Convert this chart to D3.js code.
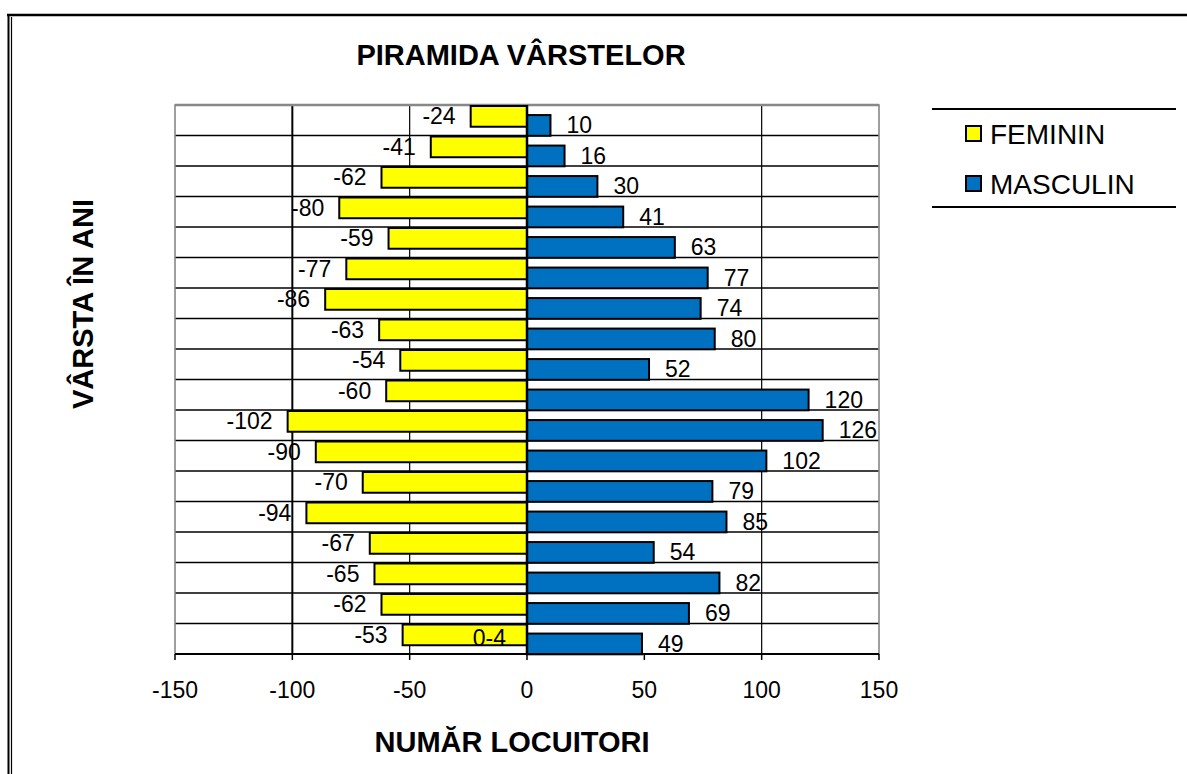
<!DOCTYPE html>
<html>
<head>
  <meta charset="utf-8">
  <title>Piramida varstelor</title>
  <script src="https://d3js.org/d3.v7.min.js"></script>
  <style>
    body { margin: 0; background: #fff; }
    text { font-family: "Liberation Sans", Arial, sans-serif; fill: #000; }
  </style>
</head>
<body>

<script>
// age groups, bottom to top
const categories = ['0-4', '5-9', '10-14', '15-19', '20-24', '25-29', '30-34', '35-39', '40-44',
  '45-49', '50-54', '55-59', '60-64', '65-69', '70-74', '75-79', '80-84', '85+'];
const feminin = [-53, -62, -65, -67, -94, -70, -90, -102, -60, -54, -63, -86, -77, -59, -80, -62, -41, -24];
const masculin = [49, 69, 82, 54, 85, 79, 102, 126, 120, 52, 80, 74, 77, 63, 41, 30, 16, 10];
const xTicks = [-150, -100, -50, 0, 50, 100, 150];
const xGrid = [-100, -50, 100];
const series = [
  { name: 'FEMININ', color: '#ffff00' },
  { name: 'MASCULIN', color: '#0070c0' }
];

const width = 1187;
const height = 774;
const plot = { left: 175, right: 879, top: 105, bottom: 654 };

const svg = d3.select('body')
  .append('svg')
  .attr('width', width)
  .attr('height', height);

const x = d3.scaleLinear().domain([-150, 150]).range([plot.left, plot.right]);
const y = d3.scaleBand().domain(categories.slice().reverse()).range([plot.top, plot.bottom]);
const bw = y.bandwidth();
const barH = bw * 0.68;
const shift = bw * 0.33;

// outer frame
svg.append('line').attr('x1', 7).attr('x2', width).attr('y1', 15).attr('y2', 15)
  .attr('stroke', '#000').attr('stroke-width', 2.5);
svg.append('line').attr('x1', 8.5).attr('x2', 8.5).attr('y1', 14).attr('y2', height)
  .attr('stroke', '#000').attr('stroke-width', 2);
svg.append('line').attr('x1', 11.5).attr('x2', 11.5).attr('y1', 17).attr('y2', height)
  .attr('stroke', '#000').attr('stroke-width', 1.2);

// horizontal gridlines between categories
svg.append('g').selectAll('line')
  .data(categories.slice(1))
  .enter().append('line')
    .attr('x1', plot.left).attr('x2', plot.right)
    .attr('y1', d => y(d) + bw).attr('y2', d => y(d) + bw)
    .attr('stroke', '#000').attr('stroke-width', 1.6);

// vertical gridlines
svg.append('g').selectAll('line')
  .data(xGrid)
  .enter().append('line')
    .attr('x1', d => x(d)).attr('x2', d => x(d))
    .attr('y1', plot.top).attr('y2', plot.bottom)
    .attr('stroke', '#000').attr('stroke-width', d => d === -100 ? 2 : 1.2);

// plot area border (grey, left/top/right)
svg.append('path')
  .attr('d', `M${plot.left},${plot.bottom}V${plot.top}H${plot.right}V${plot.bottom}`)
  .attr('fill', 'none').attr('stroke', '#888').attr('stroke-width', 1.6);
svg.append('line').attr('x1', plot.left).attr('x2', plot.right).attr('y1', plot.top).attr('y2', plot.top)
  .attr('stroke', '#888').attr('stroke-width', 2.6);

// bars
svg.append('g').selectAll('rect')
  .data(categories.map((c, i) => ({ c, v: feminin[i] })))
  .enter().append('rect')
    .attr('x', d => x(d.v)).attr('width', d => x(0) - x(d.v))
    .attr('y', d => y(d.c) + 1).attr('height', barH)
    .attr('fill', series[0].color).attr('stroke', '#000').attr('stroke-width', 2);

svg.append('g').selectAll('rect')
  .data(categories.map((c, i) => ({ c, v: masculin[i] })))
  .enter().append('rect')
    .attr('x', x(0)).attr('width', d => x(d.v) - x(0))
    .attr('y', d => y(d.c) + shift).attr('height', barH)
    .attr('fill', series[1].color).attr('stroke', '#000').attr('stroke-width', 2);

// value labels
svg.append('g').selectAll('text')
  .data(categories.map((c, i) => ({ c, v: feminin[i] })))
  .enter().append('text')
    .attr('x', d => x(d.v) - 15)
    .attr('y', d => y(d.c) + 1 + barH / 2 + 8)
    .attr('text-anchor', 'end')
    .style('font-size', '23px')
    .text(d => d.v);

svg.append('g').selectAll('text')
  .data(categories.map((c, i) => ({ c, v: masculin[i] })))
  .enter().append('text')
    .attr('x', d => x(d.v) + 16)
    .attr('y', d => y(d.c) + shift + barH / 2 + 8)
    .style('font-size', '23px')
    .text(d => d.v);

// zero axis
svg.append('line').attr('x1', x(0)).attr('x2', x(0)).attr('y1', plot.top).attr('y2', plot.bottom)
  .attr('stroke', '#000').attr('stroke-width', 2.5);

// category label (only the first is shown)
svg.append('text')
  .attr('x', x(0) - 21)
  .attr('y', y(categories[0]) + bw - 8)
  .attr('text-anchor', 'end')
  .style('font-size', '23px')
  .text(categories[0]);

// x axis
const xAxis = svg.append('g').attr('transform', `translate(0,${plot.bottom})`);
xAxis.append('line').attr('x1', plot.left).attr('x2', plot.right)
  .attr('stroke', '#000').attr('stroke-width', 2);
xAxis.selectAll('.tick')
  .data(xTicks)
  .enter().append('line')
    .attr('x1', d => x(d)).attr('x2', d => x(d))
    .attr('y1', 0).attr('y2', 6)
    .attr('stroke', '#000').attr('stroke-width', 1.5);
xAxis.selectAll('text')
  .data(xTicks)
  .enter().append('text')
    .attr('x', d => x(d)).attr('y', 44)
    .attr('text-anchor', 'middle')
    .style('font-size', '23px')
    .text(d => d);

// titles
svg.append('text')
  .attr('x', 521).attr('y', 65)
  .attr('text-anchor', 'middle')
  .style('font-size', '29px').style('font-weight', 'bold')
  .text('PIRAMIDA VÂRSTELOR');

svg.append('text')
  .attr('x', 512).attr('y', 752)
  .attr('text-anchor', 'middle')
  .style('font-size', '29px').style('font-weight', 'bold')
  .text('NUMĂR LOCUITORI');

svg.append('text')
  .attr('transform', 'translate(93,304) rotate(-90)')
  .attr('text-anchor', 'middle')
  .style('font-size', '29px').style('font-weight', 'bold')
  .text('VÂRSTA ÎN ANI');

// legend
const legend = svg.append('g');
legend.selectAll('line')
  .data([109, 207])
  .enter().append('line')
    .attr('x1', 932).attr('x2', 1176).attr('y1', d => d).attr('y2', d => d)
    .attr('stroke', '#000').attr('stroke-width', 2);
const item = legend.selectAll('.item')
  .data(series)
  .enter().append('g')
    .attr('transform', (d, i) => `translate(966,${126 + i * 50})`);
item.append('rect')
  .attr('width', 15).attr('height', 15)
  .attr('fill', d => d.color).attr('stroke', '#000').attr('stroke-width', 2);
item.append('text')
  .attr('x', 24).attr('y', 18)
  .style('font-size', '28px')
  .text(d => d.name);

</script>

</body>
</html>
